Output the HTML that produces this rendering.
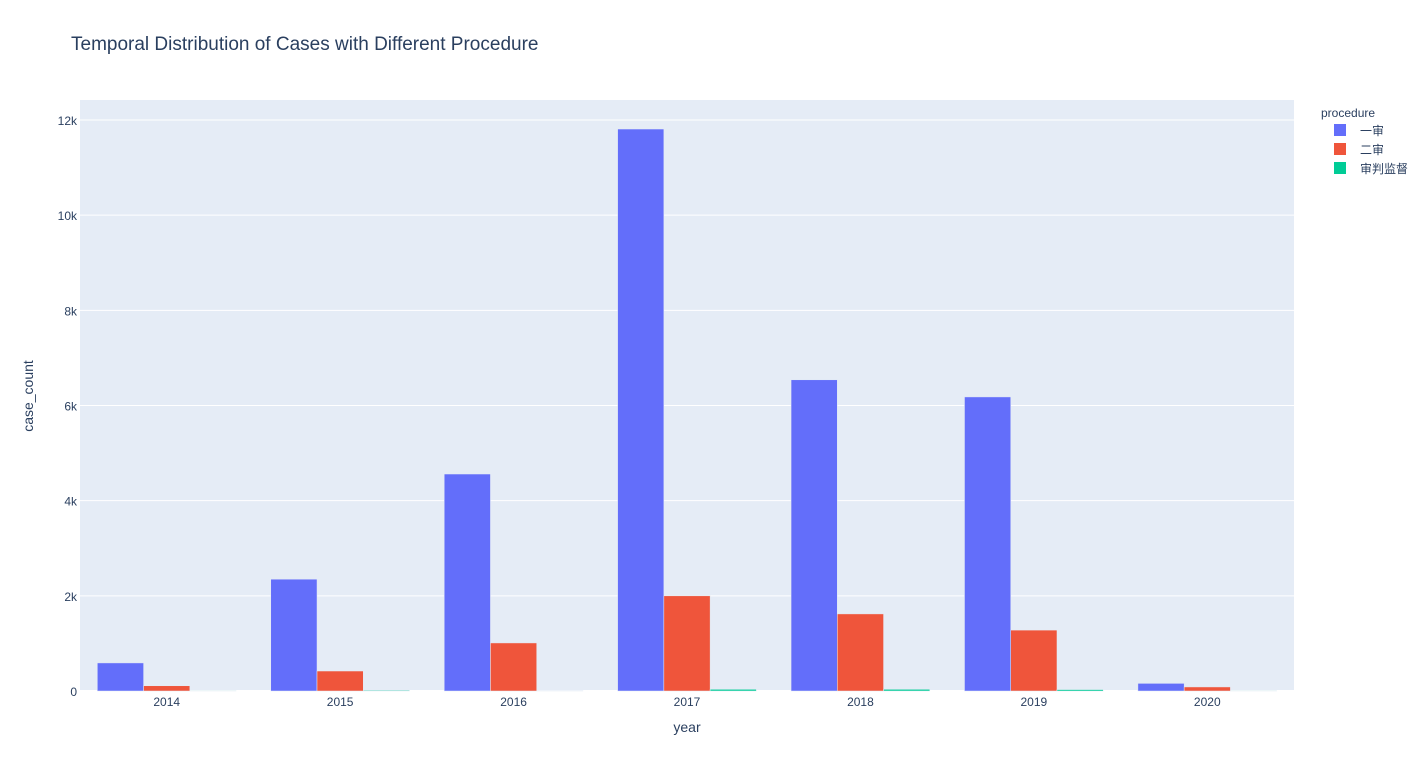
<!DOCTYPE html>
<html><head><meta charset="utf-8"><style>
body{margin:0;background:#fff;}
svg text{font-family:"Liberation Sans","Noto Sans CJK SC",sans-serif;fill:#2a3f5f;}
</style></head><body>
<svg id="chart" width="1424" height="772" xmlns="http://www.w3.org/2000/svg">
<text x="71" y="50" font-size="19">Temporal Distribution of Cases with Different Procedure</text>
<rect x="80" y="100" width="1214" height="591" fill="#e5ecf6"/>
<g id="grid"></g>
<g id="bars"></g>
<g id="xticks"></g>
<text x="687" y="732" font-size="14" text-anchor="middle">year</text>
<text transform="translate(33,396) rotate(-90)" font-size="14" text-anchor="middle">case_count</text>
<g>
<text x="1321" y="117" font-size="12">procedure</text>
<g><rect x="1334" y="124" width="12" height="12" fill="#636efa"/><text x="1360" y="135" font-size="12">一审</text></g>
<g><rect x="1334" y="143" width="12" height="12" fill="#ef553b"/><text x="1360" y="154" font-size="12">二审</text></g>
<g><rect x="1334" y="162" width="12" height="12" fill="#00cc96"/><text x="1360" y="173" font-size="12">审判监督</text></g>
</g>
</svg>
<script>
const years = ["2014","2015","2016","2017","2018","2019","2020"];
const yishen = [590, 2350, 4560, 11810, 6540, 6180, 160];
const ershen = [110, 420, 1010, 2000, 1620, 1280, 85];
const jiandu = [3, 15, 8, 35, 35, 30, 3];
const yTicks = [0, 2000, 4000, 6000, 8000, 10000, 12000];
const yTickLabels = ["0", "2k", "4k", "6k", "8k", "10k", "12k"];

const NS = "http://www.w3.org/2000/svg";
const X0 = 80, W = 1214, Y0 = 691, PH = 591;
const yMax = 12420;
function y(v){ return Y0 - v / yMax * PH; }
const band = W / years.length;
function xc(i){ return X0 + band * (i + 0.5); }
const barW = band * 0.8 / 3;

const grid = document.getElementById('grid');
yTicks.forEach((t, i) => {
  const l = document.createElementNS(NS, 'line');
  l.setAttribute('x1', X0); l.setAttribute('x2', X0 + W);
  l.setAttribute('y1', y(t)); l.setAttribute('y2', y(t));
  l.setAttribute('stroke', '#fff'); l.setAttribute('stroke-width', t === 0 ? 2 : 1);
  
  
  grid.appendChild(l);
  const tx = document.createElementNS(NS, 'text');
  tx.setAttribute('x', X0 - 3); tx.setAttribute('y', y(t) + 5);
  tx.setAttribute('text-anchor', 'end'); tx.setAttribute('font-size', '12');
  tx.textContent = yTickLabels[i];
  
  
  grid.appendChild(tx);
});

const bars = document.getElementById('bars');
const series = [[yishen, '#636efa'], [ershen, '#ef553b'], [jiandu, '#00cc96']];
years.forEach((yr, i) => {
  series.forEach((s, k) => {
    const v = s[0][i];
    const r = document.createElementNS(NS, 'rect');
    const left = xc(i) - 1.5 * barW + k * barW;
    r.setAttribute('x', left); r.setAttribute('width', barW);
    r.setAttribute('y', y(v)); r.setAttribute('height', Y0 - y(v));
    r.setAttribute('fill', s[1]); r.setAttribute('stroke', '#e5ecf6'); r.setAttribute('stroke-width', 0.5);
    
    
    bars.appendChild(r);
  });
  const tx = document.createElementNS(NS, 'text');
  tx.setAttribute('x', xc(i)); tx.setAttribute('y', 706);
  tx.setAttribute('text-anchor', 'middle'); tx.setAttribute('font-size', '12');
  tx.textContent = yr;
  
  
  document.getElementById('xticks').appendChild(tx);
});
</script>
</body></html>
